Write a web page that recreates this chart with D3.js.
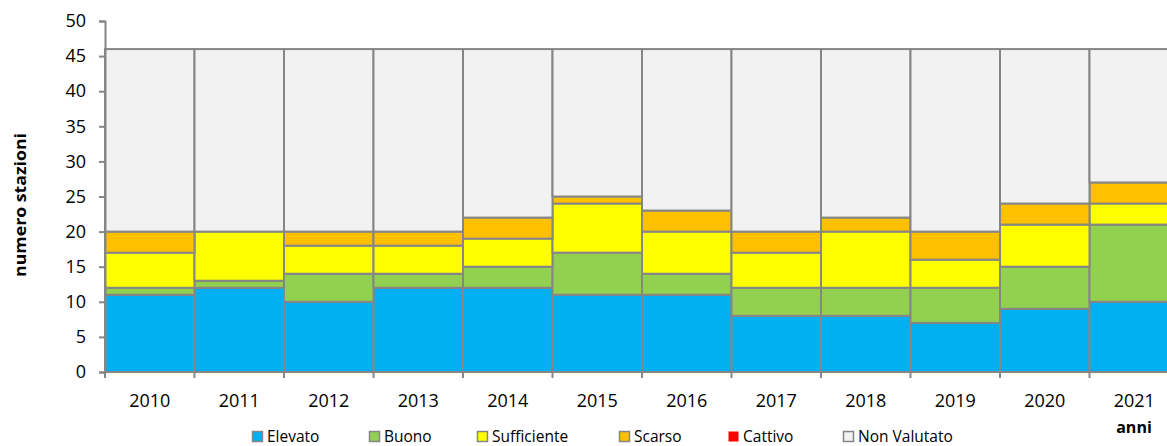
<!DOCTYPE html>
<html>
<head>
<meta charset="utf-8">
<script src="https://cdn.jsdelivr.net/npm/d3@7"></script>
<style>
  body { margin: 0; background: #fff; }
  svg text { font-family: "Open Sans", sans-serif; fill: #000; }
</style>
</head>
<body>
<svg id="chart" width="1167" height="446"></svg>
<script>
(function() {

  var years = ['2010', '2011', '2012', '2013', '2014', '2015', '2016', '2017', '2018', '2019', '2020', '2021'];
  var classes = ['Elevato', 'Buono', 'Sufficiente', 'Scarso', 'Cattivo', 'Non Valutato'];
  var colors = ['#00B0F0', '#92D050', '#FFFF00', '#FFC000', '#FF0000', '#F2F2F2'];

  // number of stations per class, one value per year
  var elevato     = [11, 12, 10, 12, 12, 11, 11, 8, 8, 7, 9, 10];
  var buono       = [1, 1, 4, 2, 3, 6, 3, 4, 4, 5, 6, 11];
  var sufficiente = [5, 7, 4, 4, 4, 7, 6, 5, 8, 4, 6, 3];
  var scarso      = [3, 0, 2, 2, 3, 1, 3, 3, 2, 4, 3, 3];
  var cattivo     = [0, 0, 0, 0, 0, 0, 0, 0, 0, 0, 0, 0];
  var nonValutato = [26, 26, 26, 26, 24, 21, 23, 26, 24, 26, 22, 19];

  var yTicks = [0, 5, 10, 15, 20, 25, 30, 35, 40, 45, 50];

  var series = [elevato, buono, sufficiente, scarso, cattivo, nonValutato];
  var rows = years.map(function(y, i) {
    var r = { year: y };
    classes.forEach(function(c, k) { r[c] = series[k][i]; });
    return r;
  });
  var stacked = d3.stack().keys(classes)(rows);

  var svg = d3.select('#chart');
  var left = 105, bottom = 372, top = 21;
  var bandW = 89.5;

  var x = d3.scaleBand()
    .domain(years)
    .range([left, left + bandW * years.length])
    .paddingInner(0).paddingOuter(0);

  var y = d3.scaleLinear()
    .domain([0, 50])
    .range([bottom, top]);

  var grey = '#868686';

  // stacked bars
  svg.append('g').selectAll('g')
    .data(stacked)
    .enter().append('g')
      .attr('fill', function(d, i) { return colors[i]; })
    .selectAll('rect')
    .data(function(d) { return d.filter(function(p) { return p[1] > p[0]; }); })
    .enter().append('rect')
      .attr('x', function(d) { return x(d.data.year); })
      .attr('y', function(d) { return y(d[1]); })
      .attr('width', x.bandwidth())
      .attr('height', function(d) { return y(d[0]) - y(d[1]); })
      .attr('stroke', grey)
      .attr('stroke-width', 2);

  // y axis
  var yAxis = svg.append('g')
    .attr('transform', 'translate(' + left + ',0)')
    .call(d3.axisLeft(y).tickValues(yTicks).tickSize(6).tickPadding(6));
  yAxis.select('.domain').attr('stroke', grey).attr('stroke-width', 2);
  yAxis.selectAll('.tick line').attr('stroke', grey).attr('stroke-width', 2);
  yAxis.selectAll('.tick text')
    .style('font-size', '18px')
    .attr('x', -19);

  // x axis: ticks at band boundaries
  var xAxis = svg.append('g')
    .attr('transform', 'translate(0,' + bottom + ')');
  xAxis.append('line')
    .attr('x1', left).attr('x2', 1167)
    .attr('stroke', grey).attr('stroke-width', 2);
  xAxis.selectAll('line.tk')
    .data(years)
    .enter().append('line')
      .attr('class', 'tk')
      .attr('x1', function(d) { return x(d); })
      .attr('x2', function(d) { return x(d); })
      .attr('y1', 0).attr('y2', 6)
      .attr('stroke', grey).attr('stroke-width', 2);
  xAxis.selectAll('text')
    .data(years)
    .enter().append('text')
      .attr('x', function(d) { return x(d) + x.bandwidth() / 2; })
      .attr('y', 35)
      .attr('text-anchor', 'middle')
      .style('font-size', '18px')
      .text(function(d) { return d; });

  // axis titles
  svg.append('text')
    .attr('transform', 'translate(26,205) rotate(-90)')
    .attr('text-anchor', 'middle')
    .attr('textLength', 144)
    .attr('lengthAdjust', 'spacingAndGlyphs')
    .style('font-size', '16.5px')
    .style('font-weight', 'bold')
    .text('numero stazioni');

  svg.append('text')
    .attr('x', 1134).attr('y', 433)
    .attr('text-anchor', 'middle')
    .style('font-size', '16px')
    .style('font-weight', 'bold')
    .text('anni');

  // legend
  var legendX = [252, 369, 477, 619, 728, 843];
  var legend = svg.append('g').selectAll('g')
    .data(classes)
    .enter().append('g')
      .attr('transform', function(d, i) { return 'translate(' + legendX[i] + ',431)'; });
  legend.append('rect')
    .attr('x', 0.5).attr('y', 0.5)
    .attr('width', 10).attr('height', 10)
    .attr('fill', function(d, i) { return colors[i]; })
    .attr('stroke', function(d, i) { return i === 4 ? 'none' : grey; })
    .attr('stroke-width', 1.5);
  legend.append('text')
    .attr('x', 15).attr('y', 11)
    .style('font-size', '15.5px')
    .text(function(d) { return d; });

})();
</script>
</body>
</html>
